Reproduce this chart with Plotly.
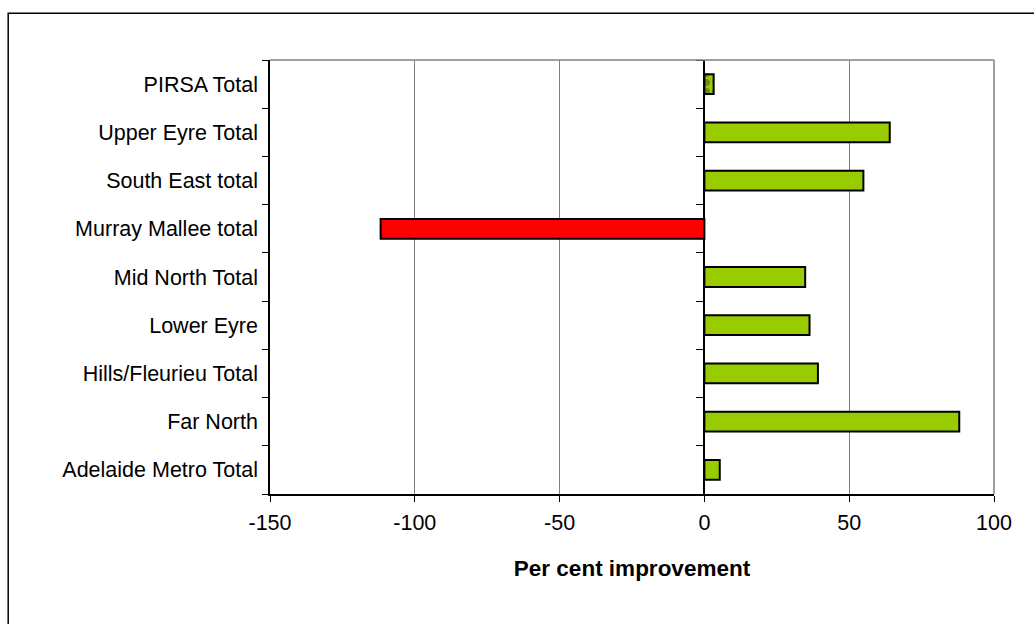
import plotly.graph_objects as go

# Regions listed bottom-to-top so the first entry sits at the bottom of the axis
regions = [
    "Adelaide Metro Total",
    "Far North",
    "Hills/Fleurieu Total",
    "Lower Eyre",
    "Mid North Total",
    "Murray Mallee total",
    "South East total",
    "Upper Eyre Total",
    "PIRSA Total",
]
improvement = [5.3, 88.0, 39.2, 36.3, 34.8, -111.8, 54.9, 64.0, 3.2]
x_ticks = [-150, -100, -50, 0, 50, 100]
x_tick_labels = ["-150", "-100", "-50", "0", "50", "100"]

GREEN = "#99CC00"
RED = "#FF0000"
FONT = "Liberation Sans, Arial, sans-serif"

colors = [RED if v < 0 else GREEN for v in improvement]
# the PIRSA total bar carries a hatched fill
shapes_pat = ["." if r == "PIRSA Total" else "" for r in regions]

fig = go.Figure()
fig.add_trace(go.Bar(
    x=improvement,
    y=regions,
    orientation="h",
    marker=dict(
        color=colors,
        line=dict(color="black", width=2),
        pattern=dict(shape=shapes_pat, fgcolor=GREEN, bgcolor="white",
                     size=9, solidity=0.45),
    ),
    showlegend=False,
    hoverinfo="x+y",
))
# Invisible companion trace that carries the category ticks on the zero line
fig.add_trace(go.Scatter(
    x=[0] * len(regions), y=regions, yaxis="y2",
    mode="none", hoverinfo="skip", showlegend=False,
))

fig.update_layout(
    width=1034, height=624,
    margin=dict(l=270, r=40, t=60, b=130),
    paper_bgcolor="white",
    plot_bgcolor="white",
    font=dict(family=FONT, size=21.5, color="black"),
    bargap=0.59,
    xaxis=dict(
        range=[-150, 100],
        tickvals=x_ticks, ticktext=x_tick_labels,
        ticks="outside", ticklen=6, tickcolor="black",
        ticklabelstandoff=2,
        showgrid=True, gridcolor="#808080", gridwidth=1,
        zeroline=True, zerolinecolor="black", zerolinewidth=1.5,
        showline=True, linecolor="black", linewidth=1.5,
        title=dict(text="<b>Per cent improvement</b>", standoff=27,
                   font=dict(family=FONT, size=22.5)),
        tickfont=dict(family=FONT, size=21.5),
        fixedrange=True,
    ),
    yaxis=dict(
        type="category",
        categoryorder="array", categoryarray=regions,
        ticks="outside", ticklen=6, tickcolor="black",
        tickson="boundaries",
        ticklabelstandoff=6,
        showgrid=False,
        showline=True, linecolor="black", linewidth=1.5,
        tickfont=dict(family=FONT, size=21.5),
        fixedrange=True,
    ),
    yaxis2=dict(
        type="category",
        categoryorder="array", categoryarray=regions,
        overlaying="y", matches="y",
        anchor="free", position=150 / 250, side="left",
        ticks="outside", ticklen=8, tickcolor="black",
        tickson="boundaries",
        showticklabels=False, showgrid=False, showline=False,
        fixedrange=True,
    ),
    shapes=[
        # thin grey frame along the top and right of the plotting area
        dict(type="line", xref="paper", yref="paper", x0=0, x1=1, y0=1, y1=1,
             line=dict(color="#808080", width=1.5)),
        dict(type="line", xref="paper", yref="paper", x0=1, x1=1, y0=0, y1=1,
             line=dict(color="#808080", width=1.5)),
        # outer chart border
        dict(type="rect", xref="paper", yref="paper",
             x0=-0.3616, x1=1.3, y0=-0.5, y1=1.1075,
             line=dict(color="black", width=1.5), layer="below"),
    ],
)

fig.write_html("out.html")
